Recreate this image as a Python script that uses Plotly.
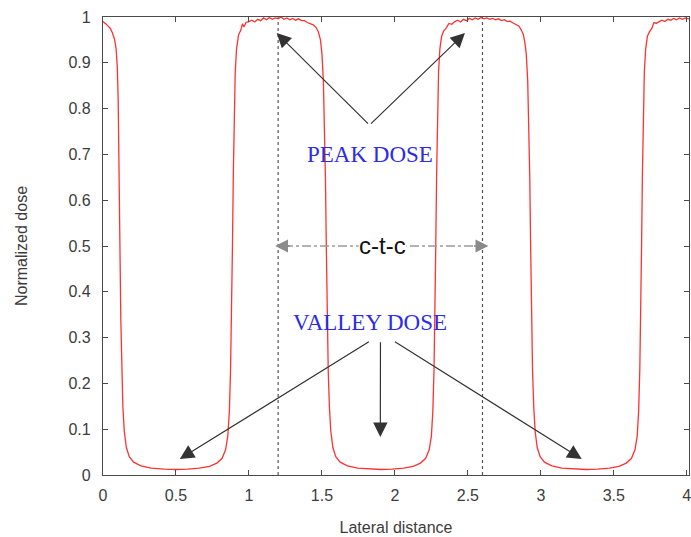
import plotly.graph_objects as go

# ---- data ----
lateral_distance = [
    0.000, 0.010, 0.020, 0.035, 0.050, 0.065, 0.080, 0.090, 0.098, 0.104, 0.110, 0.116,
    0.122, 0.128, 0.136, 0.146, 0.160, 0.180, 0.210, 0.260, 0.330, 0.420, 0.500, 0.580,
    0.660, 0.730, 0.780, 0.815, 0.840, 0.855, 0.866, 0.874, 0.881, 0.887, 0.893, 0.899,
    0.906, 0.915, 0.928, 0.945, 0.955, 0.965, 0.980, 1.000,
    1.02, 1.04, 1.06, 1.08, 1.10, 1.12, 1.14, 1.16, 1.18, 1.20, 1.22, 1.24, 1.26, 1.28,
    1.30, 1.32, 1.34, 1.36, 1.38, 1.40, 1.42, 1.44, 1.46, 1.475, 1.49, 1.500, 1.510,
    1.518, 1.524, 1.530, 1.536, 1.543, 1.551, 1.561, 1.575, 1.595, 1.625, 1.675, 1.745,
    1.830, 1.905, 1.980, 2.060, 2.125, 2.175, 2.210, 2.235, 2.250, 2.260, 2.268, 2.274,
    2.280, 2.286, 2.292, 2.299, 2.308, 2.320, 2.335, 2.350, 2.370, 2.390,
    2.41, 2.43, 2.45, 2.47, 2.49, 2.51, 2.53, 2.55, 2.57, 2.59, 2.61, 2.63, 2.65, 2.67,
    2.69, 2.71, 2.73, 2.75, 2.77, 2.79, 2.81, 2.83, 2.85, 2.865, 2.88, 2.89, 2.900,
    2.910, 2.918, 2.924, 2.930, 2.936, 2.943, 2.951, 2.961, 2.975, 2.995, 3.025, 3.075,
    3.145, 3.230, 3.310, 3.390, 3.470, 3.535, 3.585, 3.620, 3.645, 3.660, 3.670, 3.678,
    3.684, 3.690, 3.696, 3.702, 3.709, 3.718, 3.730, 3.745, 3.760, 3.775, 3.790,
    3.81, 3.83, 3.85, 3.87, 3.89, 3.91, 3.93, 3.95, 3.97, 3.99, 4.01, 4.02,
]
normalized_dose = [
    0.990, 0.988, 0.985, 0.980, 0.975, 0.965, 0.950, 0.930, 0.890, 0.820, 0.700, 0.500,
    0.340, 0.230, 0.150, 0.095, 0.060, 0.040, 0.028, 0.020, 0.015, 0.013, 0.012, 0.013,
    0.015, 0.019, 0.026, 0.036, 0.055, 0.085, 0.140, 0.230, 0.340, 0.500, 0.660, 0.790,
    0.880, 0.930, 0.960, 0.972, 0.985, 0.978, 0.988, 0.990,
    0.993, 0.989, 0.995, 0.992, 0.998, 0.994, 0.999, 0.995, 0.998, 0.996, 1.000, 0.995,
    0.998, 0.994, 0.997, 0.993, 0.996, 0.992, 0.992, 0.988, 0.986, 0.983, 0.977, 0.968,
    0.950, 0.920, 0.860, 0.760, 0.650, 0.500, 0.350, 0.230, 0.150, 0.095, 0.060, 0.040,
    0.028, 0.020, 0.015, 0.013, 0.012, 0.013, 0.015, 0.019, 0.026, 0.036, 0.055, 0.085,
    0.140, 0.230, 0.340, 0.500, 0.660, 0.790, 0.880, 0.930, 0.958, 0.970, 0.975, 0.986,
    0.984,
    0.990, 0.993, 0.989, 0.995, 0.992, 0.997, 0.994, 0.998, 0.995, 0.999, 0.996, 0.998,
    0.995, 0.997, 0.994, 0.996, 0.992, 0.994, 0.990, 0.991, 0.987, 0.984, 0.980, 0.972,
    0.962, 0.945, 0.920, 0.860, 0.760, 0.650, 0.500, 0.350, 0.230, 0.150, 0.095, 0.060,
    0.040, 0.028, 0.020, 0.015, 0.013, 0.012, 0.013, 0.015, 0.019, 0.026, 0.036, 0.055,
    0.085, 0.140, 0.230, 0.340, 0.500, 0.660, 0.790, 0.880, 0.930, 0.958, 0.968, 0.975,
    0.988, 0.986,
    0.990, 0.993, 0.990, 0.995, 0.993, 0.997, 0.994, 0.998, 0.995, 0.998, 0.996, 0.997,
]

x_tick_values = [0, 0.5, 1, 1.5, 2, 2.5, 3, 3.5, 4]
x_tick_labels = ["0", "0.5", "1", "1.5", "2", "2.5", "3", "3.5", "4"]
y_tick_values = [0, 0.1, 0.2, 0.3, 0.4, 0.5, 0.6, 0.7, 0.8, 0.9, 1]
y_tick_labels = ["0", "0.1", "0.2", "0.3", "0.4", "0.5", "0.6", "0.7", "0.8", "0.9", "1"]

peak_centers = [1.2, 2.6]          # dotted reference lines
ctc_span = [1.18, 2.64]            # centre-to-centre arrow extent
peak_arrow_tail = (1.826, 0.764)
peak_arrow_tips = [(1.19, 0.965), (2.48, 0.965)]
valley_arrow_tails = [(1.832, 0.293), (1.901, 0.293), (1.99, 0.293)]
valley_arrow_tips = [(0.526, 0.035), (1.90, 0.083), (3.28, 0.035)]

AXIS_COLOR = "#4a4a4a"
TEXT_COLOR = "#3c3c3c"
BLUE = "#2d2de6"

fig = go.Figure()
fig.add_trace(go.Scatter(
    x=lateral_distance, y=normalized_dose, mode="lines",
    line=dict(color="rgb(255,50,50)", width=1.3),
    hoverinfo="x+y", showlegend=False,
))

shapes = []
for xc in peak_centers:
    shapes.append(dict(type="line", xref="x", yref="y", x0=xc, x1=xc, y0=0, y1=1,
                       line=dict(color="#555555", width=1.2, dash="dot"), layer="below"))
shapes.append(dict(type="line", xref="x", yref="y", x0=ctc_span[0] + 0.06, x1=ctc_span[1] - 0.06,
                   y0=0.5, y1=0.5, line=dict(color="#9a9a9a", width=1.6, dash="dashdot")))

annotations = []
for (tx, ty) in peak_arrow_tips:
    annotations.append(dict(x=tx, y=ty, xref="x", yref="y", ax=peak_arrow_tail[0], ay=peak_arrow_tail[1],
                            axref="x", ayref="y", showarrow=True, arrowhead=2, arrowsize=2.4,
                            arrowwidth=1.2, arrowcolor="#333333", text=""))
for (tail, tip) in zip(valley_arrow_tails, valley_arrow_tips):
    annotations.append(dict(x=tip[0], y=tip[1], xref="x", yref="y", ax=tail[0], ay=tail[1],
                            axref="x", ayref="y", showarrow=True, arrowhead=2, arrowsize=2.4,
                            arrowwidth=1.2, arrowcolor="#333333", text=""))
# c-t-c arrow heads
annotations.append(dict(x=ctc_span[0], y=0.5, xref="x", yref="y", ax=16, ay=0, showarrow=True,
                        arrowhead=2, arrowsize=1.6, arrowwidth=1.6, arrowcolor="#8a8a8a", text=""))
annotations.append(dict(x=ctc_span[1], y=0.5, xref="x", yref="y", ax=-16, ay=0, showarrow=True,
                        arrowhead=2, arrowsize=1.6, arrowwidth=1.6, arrowcolor="#8a8a8a", text=""))
annotations.append(dict(x=1.913, y=0.502, xref="x", yref="y", text="c-t-c", showarrow=False,
                        bgcolor="white", borderpad=0,
                        font=dict(family="Liberation Sans, Arial, sans-serif", size=24, color="#111111")))
annotations.append(dict(x=1.83, y=0.699, xref="x", yref="y", text="PEAK DOSE", showarrow=False,
                        font=dict(family="Liberation Serif, Times New Roman, serif", size=23, color=BLUE)))
annotations.append(dict(x=1.827, y=0.334, xref="x", yref="y", text="VALLEY DOSE", showarrow=False,
                        font=dict(family="Liberation Serif, Times New Roman, serif", size=23, color=BLUE)))

fig.update_layout(
    width=691, height=537, autosize=False,
    margin=dict(l=103, r=0, t=17, b=62, pad=0),
    plot_bgcolor="white", paper_bgcolor="white",
    shapes=shapes, annotations=annotations,
    font=dict(family="Liberation Sans, Arial, sans-serif", color=TEXT_COLOR),
)
fig.update_xaxes(
    range=[0, 4.015], tickvals=x_tick_values, ticktext=x_tick_labels,
    showgrid=False, zeroline=False, showline=True, linecolor=AXIS_COLOR, linewidth=1.2,
    mirror="ticks", ticks="inside", ticklen=5, tickcolor=AXIS_COLOR, tickwidth=1.2,
    tickfont=dict(size=16, color=TEXT_COLOR), ticklabelstandoff=6, ticklabeloverflow="allow",
    title=dict(text="Lateral distance", font=dict(size=16, color=TEXT_COLOR), standoff=18),
)
fig.update_yaxes(
    range=[0, 1], tickvals=y_tick_values, ticktext=y_tick_labels,
    showgrid=False, zeroline=False, showline=True, linecolor=AXIS_COLOR, linewidth=1.2,
    mirror="ticks", ticks="inside", ticklen=5, tickcolor=AXIS_COLOR, tickwidth=1.2,
    tickfont=dict(size=16, color=TEXT_COLOR), ticklabelstandoff=8,
    title=dict(text="Normalized dose", font=dict(size=16, color=TEXT_COLOR), standoff=36),
)

fig.write_html("out.html")
